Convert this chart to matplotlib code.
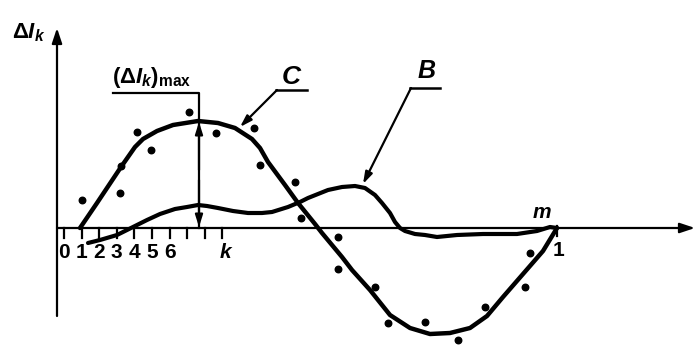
import numpy as np
import matplotlib
matplotlib.use("Agg")
import matplotlib.pyplot as plt

plt.rcParams["font.family"] = ["Liberation Sans", "DejaVu Sans"]
plt.rcParams["font.weight"] = "bold"
plt.rcParams["mathtext.fontset"] = "custom"
plt.rcParams["mathtext.rm"] = "Liberation Sans:bold"
plt.rcParams["mathtext.it"] = "Liberation Sans:italic:bold"
plt.rcParams["mathtext.bf"] = "Liberation Sans:bold"

# origin of the diagram (where the axes cross), in picture units
X0, Y0 = 57, 228

# curve C
c_x = [80, 97, 121, 135, 143, 157, 173, 198, 218, 235, 252, 260, 268, 285, 298,
       315, 322, 342, 352, 370, 390, 410, 430, 450, 470, 487, 503, 523, 543, 557]
c_y = [228, 203, 167, 147, 139, 131, 125, 121, 123, 128, 139, 148, 162, 185, 203,
       224, 233, 257, 270, 290, 315, 328, 334, 333, 328, 316, 297, 274, 251, 228]

# curve B
b_x = [88, 100, 117, 133, 147, 160, 175, 187, 198, 207, 218, 233, 248, 262, 272,
       288, 300, 308, 328, 342, 355, 365, 375, 382, 390, 395, 400, 405, 415, 425,
       437, 457, 483, 517, 537, 550, 557]
b_y = [243, 240, 235, 227, 220, 214, 209, 207, 205, 206, 208, 211, 213, 213, 212,
       207, 202, 198, 190, 187, 186, 188, 195, 203, 213, 222, 228, 231, 234, 235,
       237, 235, 234, 234, 231, 227, 228]

# measured points
p_x = [82, 120, 121, 137, 151, 189, 216, 254, 260, 295, 301, 338, 338, 375, 388,
       425, 458, 485, 525, 530]
p_y = [200, 193, 166, 132, 150, 112, 133, 128, 165, 182, 218, 237, 269, 287, 323,
       322, 340, 307, 287, 253]

tick_pos = [64, 81.6, 99.2, 116.8, 134.4, 152, 169.6, 187.2, 204.8, 222.4]
tick_labels = ["0", "1", "2", "3", "4", "5", "6", "", "", "k"]


def tx(v):
    return np.asarray(v, dtype=float) - X0


def ty(v):
    return Y0 - np.asarray(v, dtype=float)


fig = plt.figure(figsize=(7, 3.5), dpi=100)
ax = fig.add_axes([0, 0, 1, 1])
ax.set_xlim(-X0, 700 - X0)
ax.set_ylim(Y0 - 350, Y0)
ax.axis("off")

lw_axis = 1.6
arrow = dict(arrowstyle="-|>,head_length=0.9,head_width=0.3", color="black",
             lw=lw_axis, shrinkA=0, shrinkB=0)

# axes with arrows
ax.annotate("", xy=(0, ty(28)), xytext=(0, ty(316)), arrowprops=arrow)
ax.annotate("", xy=(tx(695), 0), xytext=(0, 0), arrowprops=arrow)

# ticks and labels
for p, lab in zip(tick_pos, tick_labels):
    ax.plot([tx(p), tx(p)], [0, -10], color="black", lw=1.6)
    if lab == "k":
        ax.text(tx(p) + 3, ty(253), lab, ha="center", va="center",
                fontsize=15, style="italic", fontweight="bold")
    elif lab:
        ax.text(tx(p), ty(253), lab, ha="center", va="center",
                fontsize=15, fontweight="bold")
ax.plot([tx(557), tx(557)], [2, -8], color="black", lw=1.6)
ax.text(tx(558), ty(250), "1", ha="center", va="center", fontsize=15, fontweight="bold")
ax.text(tx(542), ty(212), "m", ha="center", va="center", fontsize=15,
        style="italic", fontweight="bold")

# curves and points
ax.plot(tx(c_x), ty(c_y), color="black", lw=3.2, solid_capstyle="round",
        solid_joinstyle="round")
ax.plot(tx(b_x), ty(b_y), color="black", lw=3.0, solid_capstyle="round",
        solid_joinstyle="round")
ax.scatter(tx(p_x), ty(p_y), s=22, color="black", zorder=3)

# y label
ax.text(tx(12), ty(33), r"$\Delta I_k$", ha="left", va="center", fontsize=16)

# (dI_k)max marker
ax.text(tx(112), ty(77), r"$(\Delta I_k)_{\mathrm{max}}$", ha="left", va="center",
        fontsize=16)
ax.plot([tx(113), tx(199), tx(199)], [ty(93), ty(93), 0], color="black", lw=1.6)
small = dict(arrowstyle="-|>,head_length=0.7,head_width=0.22", color="black",
             lw=1.6, shrinkA=0, shrinkB=0)
ax.annotate("", xy=(tx(199), ty(122)), xytext=(tx(199), ty(170)), arrowprops=small)
ax.annotate("", xy=(tx(199), ty(227)), xytext=(tx(199), ty(180)), arrowprops=small)

# labels C and B with leaders
ax.text(tx(291), ty(77), "C", ha="center", va="center", fontsize=19,
        style="italic", fontweight="bold")
ax.plot([tx(276), tx(307)], [ty(90), ty(90)], color="black", lw=1.8)
ax.annotate("", xy=(tx(240), ty(127)), xytext=(tx(277), ty(90)), arrowprops=small)

ax.text(tx(427), ty(71), "B", ha="center", va="center", fontsize=18,
        style="italic", fontweight="bold")
ax.plot([tx(410), tx(440)], [ty(88), ty(88)], color="black", lw=1.8)
ax.annotate("", xy=(tx(363), ty(184)), xytext=(tx(411), ty(88)), arrowprops=small)

plt.savefig("out.png", dpi=100)
